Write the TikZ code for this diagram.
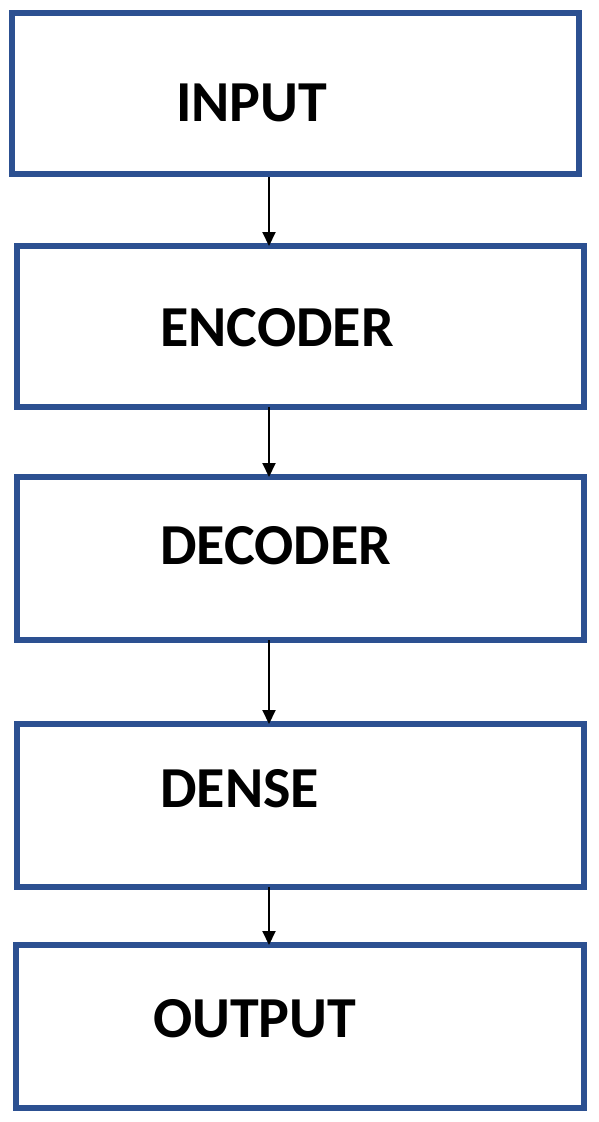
\documentclass[tikz,border=0pt]{standalone}
\usepackage{fontspec}
\setmainfont{Carlito}
\usetikzlibrary{arrows.meta}
\definecolor{boxblue}{RGB}{44,80,145}
\begin{document}
\begin{tikzpicture}[x=1pt,y=-1pt,
  blk/.style={draw=boxblue,line width=6pt,fill=white,rectangle,inner sep=0pt},
  lbl/.style={anchor=base west,inner sep=0pt,font=\fontsize{58}{60}\selectfont\bfseries},
  arr/.style={line width=2pt,-{Triangle[length=14pt,width=13pt]}}]
\useasboundingbox (0,0) rectangle (598,1122);
\fill[white] (0,0) rectangle (598,1122);
\node[blk,minimum width=567pt,minimum height=161pt] (in) at (295.5,93.5) {};
\node[blk,minimum width=567pt,minimum height=161pt] (enc) at (300.5,326.5) {};
\node[blk,minimum width=567pt,minimum height=163pt] (dec) at (300.5,558.5) {};
\node[blk,minimum width=567pt,minimum height=163pt] (den) at (300.5,805.5) {};
\node[blk,minimum width=568pt,minimum height=163pt] (out) at (300,1026.5) {};
\node[lbl] (tin) at (176,121) {INPUT};
\node[lbl] (tenc) at (160,346) {ENCODER};
\node[lbl] (tdec) at (160,564) {DECODER};
\node[lbl] (tden) at (160,807) {DENSE};
\node[lbl] (tout) at (153,1037) {OUTPUT};
\coordinate (ax) at (269,0);
\draw[arr] (in.south -| ax) -- ([yshift=-3pt]enc.north -| ax);
\draw[arr] ([yshift=3pt]enc.south -| ax) -- ([yshift=-3pt]dec.north -| ax);
\draw[arr] ([yshift=3pt]dec.south -| ax) -- ([yshift=-3pt]den.north -| ax);
\draw[arr] ([yshift=3pt]den.south -| ax) -- ([yshift=-3pt]out.north -| ax);
\end{tikzpicture}
\end{document}
